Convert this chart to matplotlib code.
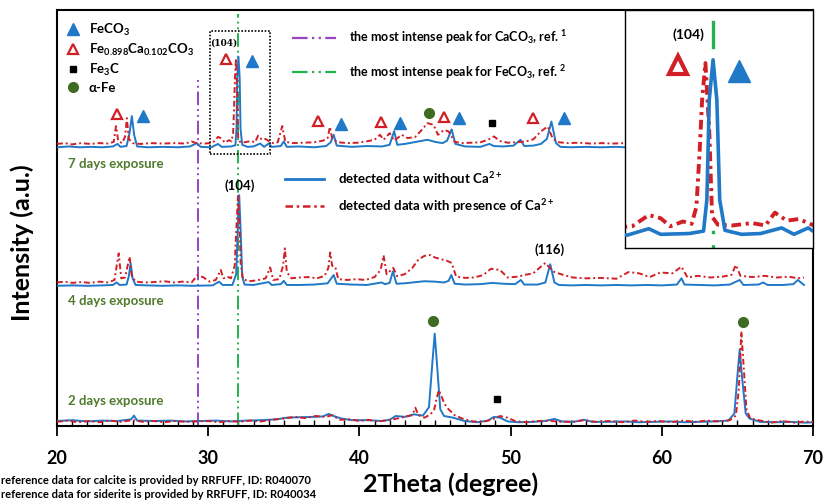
import matplotlib
matplotlib.use('Agg')
import matplotlib.pyplot as plt
from matplotlib.lines import Line2D
from matplotlib.patches import Rectangle
from matplotlib.ticker import MultipleLocator
import numpy as np

plt.rcParams['font.family'] = ['Lato', 'DejaVu Sans']
plt.rcParams['font.weight'] = 'bold'
plt.rcParams['axes.labelweight'] = 'bold'
plt.rcParams['mathtext.fontset'] = 'custom'
plt.rcParams['mathtext.rm'] = 'Lato:bold'
plt.rcParams['mathtext.bf'] = 'Lato:bold'
plt.rcParams['mathtext.it'] = 'Lato:bold'
plt.rcParams['mathtext.default'] = 'bf'

# ---- data: (2theta, intensity a.u.), before stacking ----
d7_blue = [
    (20.0, 1.0), (20.8, 1.2), (21.5, 1.0), (22.3, 1.1), (23.0, 1.0), (23.7, 1.2),
    (24.0, 1.8), (24.2, 1.1), (24.6, 1.3), (24.8, 4.5), (24.95, 8.5), (25.1, 4.0),
    (25.3, 1.2), (26.0, 1.0), (27.0, 1.1), (28.0, 1.0), (28.8, 1.2), (29.25, 2.0),
    (29.5, 1.1), (30.2, 1.0), (30.65, 1.8), (30.9, 1.1), (31.5, 1.2), (31.8, 1.5),
    (31.87, 5.4), (31.92, 17.8), (32.0, 22.8), (32.08, 17.8), (32.14, 5.4),
    (32.25, 1.6), (32.6, 1.1), (33.0, 1.2), (33.44, 1.9), (33.7, 1.1), (34.0, 1.9),
    (34.2, 1.1), (34.8, 1.3), (35.0, 2.4), (35.2, 1.1), (36.0, 1.2), (37.0, 1.0),
    (37.8, 1.3), (38.1, 2.2), (38.3, 4.0), (38.5, 1.4), (39.5, 1.1), (40.5, 1.3),
    (41.5, 1.2), (42.0, 1.6), (42.3, 4.9), (42.5, 1.6), (43.0, 1.8), (43.6, 2.2),
    (44.2, 2.6), (44.5, 2.8), (45.0, 2.3), (45.5, 2.0), (45.8, 2.6), (46.1, 5.3),
    (46.35, 1.8), (47.0, 1.2), (48.0, 1.1), (48.6, 1.8), (48.9, 1.3), (49.5, 1.2),
    (50.2, 1.4), (50.65, 2.8), (50.9, 1.3), (51.5, 1.4), (52.0, 1.8), (52.4, 3.0),
    (52.7, 7.2), (53.0, 2.0), (53.3, 1.1), (54.0, 1.0), (55.0, 1.1), (56.0, 1.0),
    (57.0, 1.1), (57.6, 1.0),
]
d7_red = [
    (20.0, 1.8), (20.5, 2.0), (21.0, 1.7), (21.6, 2.0), (22.2, 1.8), (22.8, 2.0),
    (23.4, 1.9), (23.75, 2.3), (23.9, 6.1), (24.05, 2.5), (24.3, 2.0), (24.5, 3.5),
    (24.62, 8.0), (24.75, 3.0), (25.0, 2.0), (25.5, 1.8), (26.2, 2.0), (27.0, 1.9),
    (27.8, 2.0), (28.5, 1.9), (28.9, 2.4), (29.2, 2.0), (29.8, 1.9), (30.3, 2.1),
    (30.65, 3.5), (30.9, 3.1), (31.1, 2.1), (31.37, 2.7), (31.55, 2.4), (31.65, 4.5),
    (31.72, 11.6), (31.77, 17.8), (31.84, 22.4), (31.92, 14.0), (31.98, 3.3),
    (32.1, 2.3), (32.4, 2.2), (32.82, 2.5), (33.1, 2.2), (33.3, 3.8), (33.55, 2.8),
    (33.8, 3.0), (34.2, 2.0), (34.6, 2.2), (34.9, 6.1), (35.1, 2.3), (35.6, 2.0),
    (36.3, 2.1), (37.0, 2.2), (37.6, 2.6), (37.9, 3.2), (38.05, 5.9), (38.2, 3.0),
    (38.6, 2.2), (39.2, 2.0), (39.9, 2.1), (40.6, 2.5), (41.0, 2.8), (41.36, 4.0),
    (41.6, 2.8), (42.0, 4.4), (42.3, 2.6), (42.8, 4.0), (43.2, 3.2), (43.7, 3.5),
    (44.2, 5.5), (44.5, 6.8), (44.9, 6.4), (45.2, 4.0), (45.6, 5.2), (45.9, 4.8),
    (46.3, 2.3), (46.8, 2.0), (47.4, 2.1), (48.0, 2.2), (48.5, 2.8), (48.9, 3.6),
    (49.3, 2.5), (49.8, 2.1), (50.4, 2.2), (51.0, 2.4), (51.5, 2.9), (52.0, 4.8),
    (52.45, 6.0), (52.8, 3.0), (53.2, 2.2), (53.8, 2.0), (54.5, 2.1), (55.3, 1.9),
    (56.0, 2.0), (56.8, 1.9), (57.6, 2.0),
]
d4_blue = [
    (20.0, 1.2), (21.0, 1.3), (22.0, 1.2), (23.0, 1.3), (23.7, 1.4), (23.93, 2.0),
    (24.15, 1.4), (24.6, 1.5), (24.75, 3.5), (24.87, 6.6), (25.0, 3.0), (25.2, 1.4),
    (26.0, 1.3), (27.0, 1.2), (28.0, 1.3), (29.0, 1.2), (30.3, 1.3), (30.72, 2.2),
    (30.95, 1.4), (31.6, 1.4), (31.85, 4.0), (31.95, 14.0), (32.05, 23.0),
    (32.15, 14.0), (32.25, 3.5), (32.4, 1.5), (33.0, 1.4), (34.0, 2.1), (34.2, 1.4),
    (34.8, 1.6), (35.0, 2.4), (35.2, 1.4), (36.0, 1.4), (37.0, 1.5), (37.9, 1.8),
    (38.3, 3.8), (38.5, 1.7), (39.5, 1.5), (40.5, 1.4), (41.45, 2.0), (41.7, 1.6),
    (42.0, 1.9), (42.22, 4.7), (42.45, 1.7), (43.0, 1.8), (43.5, 2.0), (44.3, 2.3),
    (45.0, 2.2), (45.6, 2.0), (45.9, 2.4), (46.08, 3.8), (46.3, 1.7), (47.0, 1.5),
    (48.0, 1.6), (48.8, 1.9), (49.5, 1.7), (50.3, 1.6), (50.68, 2.6), (50.9, 1.5),
    (51.8, 1.5), (52.3, 2.0), (52.62, 6.4), (52.9, 2.0), (53.2, 1.4), (54.0, 1.3),
    (55.0, 1.4), (56.0, 1.3), (57.0, 1.4), (58.0, 1.3), (59.0, 1.4), (60.0, 1.3),
    (61.0, 1.5), (61.3, 3.0), (61.5, 1.5), (62.5, 1.4), (63.5, 1.3), (64.5, 1.5),
    (65.15, 2.6), (65.4, 1.4), (66.4, 1.5), (66.7, 2.0), (67.0, 1.4), (68.0, 1.4),
    (68.7, 1.6), (69.0, 2.6), (69.4, 1.4),
]
d4_red = [
    (20.0, 2.0), (20.5, 2.2), (21.0, 1.9), (21.6, 2.1), (22.2, 1.9), (22.8, 2.2),
    (23.4, 2.0), (23.8, 2.6), (24.08, 9.0), (24.25, 3.0), (24.5, 3.2), (24.8, 8.2),
    (24.95, 3.5), (25.2, 2.2), (25.8, 2.0), (26.4, 2.1), (27.1, 2.3), (27.7, 2.0),
    (28.3, 2.2), (28.9, 2.0), (29.3, 3.8), (29.7, 3.2), (30.1, 2.2), (30.5, 2.6),
    (30.83, 5.0), (31.0, 3.0), (31.27, 3.4), (31.5, 3.0), (31.75, 6.0), (31.85, 14.0),
    (31.97, 22.8), (32.05, 18.0), (32.15, 6.5), (32.3, 2.8), (32.7, 2.3), (33.2, 2.5),
    (33.8, 3.0), (34.1, 5.6), (34.3, 2.6), (34.7, 2.8), (34.95, 6.0), (35.07, 10.2),
    (35.2, 4.5), (35.5, 3.0), (36.0, 3.2), (36.6, 3.3), (37.2, 3.0), (37.7, 3.6),
    (37.95, 5.5), (38.07, 9.2), (38.2, 6.0), (38.4, 5.8), (38.6, 2.8), (39.2, 2.6),
    (39.8, 2.8), (40.4, 2.6), (41.0, 3.3), (41.4, 5.0), (41.6, 8.5), (41.8, 4.0),
    (42.24, 5.5), (42.5, 3.5), (43.0, 4.0), (43.5, 5.5), (43.9, 7.5), (44.3, 8.4),
    (44.7, 8.6), (45.0, 8.0), (45.4, 7.6), (45.8, 7.2), (46.1, 6.7), (46.4, 3.4),
    (47.0, 3.1), (47.6, 3.2), (48.2, 3.8), (48.7, 5.3), (49.3, 5.0), (49.8, 3.2),
    (50.5, 3.4), (50.9, 3.8), (51.5, 4.2), (52.0, 5.8), (52.3, 6.7), (52.6, 5.5),
    (52.9, 4.5), (53.5, 3.8), (54.1, 3.2), (55.0, 3.0), (56.0, 3.1), (57.0, 2.9),
    (57.8, 4.5), (58.5, 4.2), (59.2, 3.3), (59.9, 4.4), (60.7, 4.2), (61.3, 5.8),
    (61.7, 3.2), (62.4, 3.6), (63.2, 3.2), (64.0, 3.4), (64.6, 3.8), (64.9, 6.2),
    (65.2, 3.6), (66.0, 3.3), (66.8, 3.6), (67.6, 3.2), (68.4, 3.4), (69.0, 3.0),
    (69.4, 3.2),
]
d2_blue = [
    (20.0, 1.2), (21.0, 1.4), (22.0, 1.1), (23.0, 1.3), (24.0, 1.2), (24.9, 1.6),
    (25.09, 2.5), (25.3, 1.3), (26.5, 1.2), (27.5, 1.3), (28.5, 1.1), (29.5, 1.2),
    (30.5, 1.3), (31.5, 1.1), (32.5, 1.3), (33.5, 1.4), (34.5, 1.6), (35.2, 2.0),
    (36.0, 2.1), (37.0, 2.2), (37.6, 2.3), (37.96, 2.9), (38.3, 2.4), (38.8, 1.8),
    (39.5, 1.4), (40.5, 1.4), (41.5, 1.2), (42.0, 1.5), (42.4, 2.4), (43.0, 2.2),
    (43.6, 2.8), (44.2, 2.5), (44.6, 4.5), (44.8, 14.0), (44.98, 22.2), (45.15, 14.0),
    (45.35, 4.0), (45.6, 2.4), (46.2, 2.0), (46.95, 1.2), (47.8, 0.9), (48.5, 1.3),
    (48.9, 2.2), (49.3, 2.0), (49.8, 1.1), (50.5, 0.9), (51.5, 1.0), (52.3, 1.2),
    (52.9, 1.7), (53.4, 1.1), (54.2, 1.0), (54.85, 1.5), (55.4, 1.0), (56.5, 1.0),
    (57.5, 1.1), (58.5, 0.9), (59.5, 1.0), (60.5, 1.1), (61.5, 0.9), (62.5, 1.0),
    (63.5, 1.1), (64.4, 1.3), (64.8, 3.0), (65.0, 12.0), (65.15, 18.4), (65.3, 12.0),
    (65.55, 3.0), (65.8, 1.8), (66.5, 1.0), (67.5, 0.9), (68.5, 1.0), (69.5, 0.8),
    (70.0, 0.9),
]
d2_red = [
    (20.0, 1.0), (20.7, 1.3), (21.4, 0.9), (22.1, 1.2), (22.8, 0.9), (23.5, 1.3),
    (24.2, 1.0), (25.0, 1.4), (25.7, 1.0), (26.4, 1.2), (27.1, 0.9), (27.8, 1.2),
    (28.5, 1.0), (29.2, 1.1), (30.0, 1.2), (30.7, 0.9), (31.4, 1.2), (32.1, 1.0),
    (32.8, 1.3), (33.5, 1.1), (34.2, 1.5), (35.0, 1.8), (35.7, 2.2), (36.4, 1.9),
    (37.1, 2.4), (37.8, 2.2), (38.2, 2.6), (38.7, 1.5), (39.4, 1.6), (40.0, 1.2),
    (40.6, 1.5), (41.2, 1.1), (41.9, 1.4), (42.5, 1.8), (43.0, 2.2), (43.5, 2.6),
    (43.7, 4.4), (43.9, 2.6), (44.3, 2.0), (44.7, 2.8), (44.95, 4.0), (45.1, 6.5),
    (45.25, 8.6), (45.4, 7.5), (45.6, 5.5), (45.9, 4.0), (46.3, 2.6), (46.8, 1.8),
    (47.5, 1.1), (48.2, 1.0), (48.8, 1.6), (49.3, 2.4), (49.8, 2.0), (50.3, 1.2),
    (51.0, 0.9), (51.8, 1.2), (52.5, 1.3), (53.2, 1.0), (54.0, 1.0), (54.9, 1.4),
    (55.6, 1.0), (56.5, 1.2), (57.4, 0.9), (58.2, 1.3), (59.0, 1.0), (59.8, 1.2),
    (60.6, 0.9), (61.4, 1.3), (62.2, 1.0), (63.0, 1.3), (63.8, 1.1), (64.5, 1.4),
    (64.9, 2.5), (65.1, 9.0), (65.26, 22.7), (65.4, 15.0), (65.6, 4.0), (65.85, 1.8),
    (66.4, 1.4), (67.2, 0.8), (68.0, 1.2), (68.8, 0.8), (69.5, 1.1), (70.0, 0.9),
]

exposures = ['7 days exposure', '4 days exposure', '2 days exposure']
offsets = [66.0, 32.5, 0.0]
blue_sets = [d7_blue, d4_blue, d2_blue]
red_sets = [d7_red, d4_red, d2_red]

# reference peak positions (2theta)
caco3_ref = 29.3
feco3_ref = 32.0

# phase markers (2theta, stacked height)
feco3_marks = [(25.7, 74.5), (32.9, 87.7), (38.8, 72.6), (42.7, 72.8), (46.6, 74.0), (53.5, 74.0)]
fecaco3_marks = [(23.95, 75.0), (31.2, 88.2), (37.24, 73.3), (41.4, 73.1), (45.6, 74.3), (51.45, 74.0)]
fe3c_marks = [(48.77, 72.8), (49.1, 6.4)]
fe_marks = [(44.6, 75.2), (44.9, 25.2), (65.4, 24.9)]
inset_fecaco3 = [(31.26, 88.2)]
inset_feco3 = [(32.55, 87.4)]

BLUE = '#1f78c8'
RED = '#d21f26'
PURPLE = '#9444c4'
GREEN = '#22b24c'
DKGREEN = '#3f6b22'
TXTGREEN = '#4f7a2c'
RED_DASH = (3, 1.5, 1, 1.5)
REF_DASH = (7, 2, 1, 2, 1, 2)

fig = plt.figure(figsize=(8.26, 5.01), dpi=100)
ax = fig.add_axes([57 / 826, 75 / 501, 756 / 826, 416 / 501])

for blue, red, off in zip(blue_sets, red_sets, offsets):
    bx, by = np.array(blue).T
    rx, ry = np.array(red).T
    ax.plot(bx, by + off, color=BLUE, lw=1.4, zorder=3)
    ax.plot(rx, ry + off, color=RED, lw=1.4, dashes=RED_DASH, zorder=4)

ax.axvline(caco3_ref, ymin=0, ymax=0.832, color=PURPLE, lw=1.4, dashes=REF_DASH, zorder=2)
ax.axvline(feco3_ref, ymin=0, ymax=0.99, color=GREEN, lw=1.4, dashes=REF_DASH, zorder=2)


def scatter_marks(a, marks, **kw):
    x, y = np.array(marks).T
    a.plot(x, y, ls='none', zorder=6, **kw)


scatter_marks(ax, feco3_marks, marker='^', color=BLUE, ms=8)
scatter_marks(ax, fecaco3_marks, marker='^', mfc='white', mec=RED, mew=1.6, ms=7)
scatter_marks(ax, fe3c_marks, marker='s', color='black', ms=5)
scatter_marks(ax, fe_marks, marker='o', color=DKGREEN, ms=7)

ax.add_patch(Rectangle((30.15, 65.4), 3.95, 29.6, fill=False, ec='black',
                       lw=1.2, ls=(0, (1, 1)), zorder=5))

ax.text(31.0, 92.1, '(104)', family='DejaVu Serif', fontsize=6.5, fontweight='bold',
        ha='center', va='center')
ax.text(32.1, 57.7, '(104)', fontsize=9.5, fontweight='bold', ha='center', va='center')
ax.text(52.57, 42.5, '(116)', fontsize=9.5, fontweight='bold', ha='center', va='center')

for label, ypos in zip(exposures, [63.0, 30.0, 6.0]):
    ax.text(20.72, ypos, label, color=TXTGREEN, fontsize=9.5, fontweight='bold',
            ha='left', va='center')

# legends
h1 = [Line2D([], [], marker='^', color=BLUE, ls='none', ms=8),
      Line2D([], [], marker='^', mfc='white', mec=RED, mew=1.6, ls='none', ms=7),
      Line2D([], [], marker='s', color='black', ls='none', ms=5),
      Line2D([], [], marker='o', color=DKGREEN, ls='none', ms=7)]
l1 = ['FeCO$_3$', 'Fe$_{0.898}$Ca$_{0.102}$CO$_3$', 'Fe$_3$C', 'α-Fe']
leg1 = ax.legend(h1, l1, loc='upper left', bbox_to_anchor=(0.012, 0.972), frameon=False,
                 prop={'size': 9.5, 'weight': 'bold'}, handlelength=1.0, handletextpad=0.7,
                 labelspacing=0.3, borderpad=0, borderaxespad=0)
ax.add_artist(leg1)

h2 = [Line2D([], [], color=PURPLE, lw=1.6, dashes=REF_DASH),
      Line2D([], [], color=GREEN, lw=1.6, dashes=REF_DASH)]
l2 = ['the most intense peak for CaCO$_3$, ref. $^1$',
      'the most intense peak for FeCO$_3$, ref. $^2$']
leg2 = ax.legend(h2, l2, loc='upper left', bbox_to_anchor=(0.311, 0.956), frameon=False,
                 prop={'size': 9, 'weight': 'bold'}, handlelength=3.5, handletextpad=1.06,
                 labelspacing=1.3, borderpad=0, borderaxespad=0)
ax.add_artist(leg2)

h3 = [Line2D([], [], color=BLUE, lw=2),
      Line2D([], [], color=RED, lw=1.8, dashes=RED_DASH)]
l3 = ['detected data without Ca$^{2+}$', 'detected data with presence of Ca$^{2+}$']
ax.legend(h3, l3, loc='upper left', bbox_to_anchor=(0.302, 0.616), frameon=False,
          prop={'size': 9.5, 'weight': 'bold'}, handlelength=2.9, handletextpad=1.1,
          labelspacing=0.85, borderpad=0, borderaxespad=0)

ax.set_xlim(20, 70)
ax.set_ylim(0, 100)
ax.xaxis.set_major_locator(MultipleLocator(10))
ax.xaxis.set_minor_locator(MultipleLocator(1))
ax.tick_params(axis='x', which='major', direction='out', length=7, width=1.3, labelsize=13, pad=10)
ax.tick_params(axis='x', which='minor', direction='in', length=4, width=1.0)
ax.tick_params(axis='y', left=False, labelleft=False)
for lbl in ax.get_xticklabels():
    lbl.set_fontweight('bold')
for s in ax.spines.values():
    s.set_linewidth(1.5)

ax.set_xlabel('2Theta (degree)', fontsize=18, fontweight='bold', va='center')
ax.xaxis.set_label_coords(0.521, -0.139)
ax.set_ylabel('Intensity (a.u.)', fontsize=18, fontweight='bold', va='center')
ax.yaxis.set_label_coords(-0.046, 0.44)

fig.text(0.001, 0.040, 'reference data for calcite is provided by RRFUFF, ID: R040070',
         fontsize=8, fontweight='bold', ha='left', va='center')
fig.text(0.001, 0.012, 'reference data for siderite is provided by RRFUFF, ID: R040034',
         fontsize=8, fontweight='bold', ha='left', va='center')

# zoomed inset of the (104) peak, 7 days
axin = fig.add_axes([625 / 826, 253 / 501, 188 / 826, 238 / 501])
bx, by = np.array(d7_blue).T
rx, ry = np.array(d7_red).T
axin.plot(bx, by + offsets[0], color=BLUE, lw=2.6, zorder=3)
axin.plot(rx, ry + offsets[0], color=RED, lw=2.8, dashes=(2.5, 1.2, 0.8, 1.2), zorder=2)
axin.axvline(feco3_ref, ymin=0.845, ymax=0.95, color=GREEN, lw=2.4, zorder=1)
axin.axvline(feco3_ref, ymin=0.0, ymax=0.085, color=GREEN, lw=2.4, dashes=(1, 3.3), zorder=1)
scatter_marks(axin, inset_feco3, marker='^', color=BLUE, ms=16)
scatter_marks(axin, inset_fecaco3, marker='^', mfc='white', mec=RED, mew=3, ms=13)
axin.text(31.49, 91.9, '(104)', fontsize=10, fontweight='bold', ha='center', va='center')
axin.set_xlim(30.15, 34.1)
axin.set_ylim(65.4, 95.0)
axin.set_xticks([])
axin.set_yticks([])
for s in axin.spines.values():
    s.set_linestyle((0, (1, 1)))
    s.set_linewidth(1.0)

fig.savefig('out.png', dpi=100, facecolor='white')
